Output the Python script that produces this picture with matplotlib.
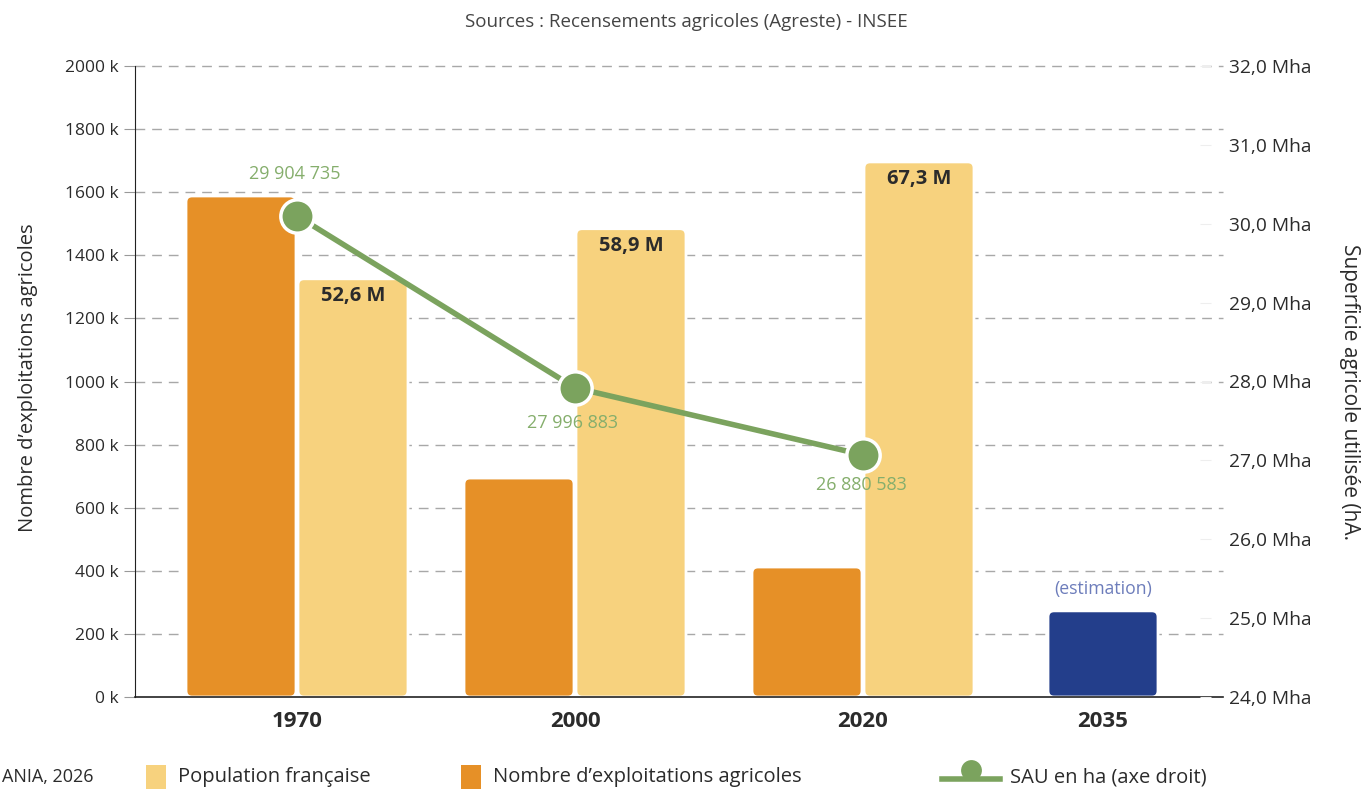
import matplotlib.pyplot as plt
from matplotlib.patches import FancyBboxPatch
from matplotlib.lines import Line2D

plt.rcParams['font.family'] = ['Open Sans', 'DejaVu Sans']

# data
years = ['1970', '2000', '2020', '2035']
exploitations_k = [1588, 694, 412, 273]      # 2035 = estimation
population_m = [52.6, 58.9, 67.3]
pop_scale = 25.2                               # k per M on the left axis
sau_mha = [30.10, 27.92, 27.07]
sau_labels = ['29 904 735', '27 996 883', '26 880 583']
left_ticks = [0, 200, 400, 600, 800, 1000, 1200, 1400, 1600, 1800, 2000]
right_ticks = [24, 25, 26, 27, 28, 29, 30, 31, 32]

orange = '#E69027'
yellow = '#F7D27E'
blue = '#233E8B'
green = '#7BA35E'
green_txt = '#85AE6C'
dark = '#2b2b2b'

# layout (x in pixel-like units of the plot width)
group_x = [162, 440, 728, 968]
bw = 110
off = 56
ypx = 2000 / 631  # data units per pixel on left axis

fig = plt.figure(figsize=(13.61, 7.9), dpi=100)
ax = fig.add_axes([135 / 1361, 1 - 697 / 790, 1065 / 1361, 631 / 790])
ax.set_xlim(0, 1065)
ax.set_ylim(0, 2000)


def rbar(x, h, color):
    p = FancyBboxPatch((x - bw / 2, 0), bw, h,
                       boxstyle='round,pad=0,rounding_size=6',
                       mutation_aspect=ypx, fc=color, ec='white', lw=2, zorder=3)
    ax.add_patch(p)


for i in range(3):
    rbar(group_x[i] - off, exploitations_k[i], orange)
    h = population_m[i] * pop_scale
    rbar(group_x[i] + off, h, yellow)
    ax.text(group_x[i] + off, h - 17 * ypx, f'{population_m[i]:.1f} M'.replace('.', ','),
            ha='center', va='center', fontsize=14.5, fontweight='bold', color=dark, zorder=6)

rbar(group_x[3], exploitations_k[3], blue)
ax.text(group_x[3], exploitations_k[3] + 68, '(estimation)', ha='center', va='center',
        fontsize=12.7, color='#6d7dbb', zorder=6)

# grid
for t in left_ticks[1:]:
    ax.plot([0, 1088], [t, t], ls=(0, (7, 5)), color='#a8a8a8', lw=1, zorder=1,
            clip_on=False)
ax.plot([0, 1088], [0, 0], color='#222222', lw=1.2, zorder=4, clip_on=False)

ax.set_yticks(left_ticks)
ax.set_yticklabels([f'{t} k' for t in left_ticks])
ax.set_xticks(group_x)
ax.set_xticklabels(years, fontweight='bold', fontsize=16, color=dark)
ax.tick_params(axis='y', labelsize=12.5, color='#999999', length=8, labelcolor=dark, pad=4)
ax.tick_params(axis='x', length=0, pad=10)
for s in ['top', 'right', 'bottom']:
    ax.spines[s].set_visible(False)
ax.spines['left'].set_color('#222222')
ax.set_ylabel("Nombre d’exploitations agricoles", fontsize=14.5, color=dark)
ax.yaxis.set_label_coords(-0.091, 0.5055)

# right axis with SAU line
ax2 = ax.twinx()
ax2.set_ylim(24, 32)
ax2.set_yticks(right_ticks)
ax2.set_yticklabels([f'{t},0 Mha' for t in right_ticks])
ax2.tick_params(axis='y', labelsize=13.8, color='#eeeeee', length=8, labelcolor=dark, pad=13)
for s in ['top', 'right', 'bottom', 'left']:
    ax2.spines[s].set_visible(False)
ax2.set_ylabel('Superficie agricole utilisée (hA.', rotation=-90, fontsize=15,
               color=dark, va='center')
ax2.yaxis.set_label_coords(1.1408, 0.484)
ax2.plot(group_x[:3], sau_mha, color=green, lw=4, zorder=5, marker='o', ms=24,
         mfc=green, mec='white', mew=2.5)
ax2.set_zorder(ax.get_zorder() + 1)
ax2.patch.set_visible(False)

label_dy = [0.53, -0.45, -0.38]
for x, y, lab, dy in zip(group_x, sau_mha, sau_labels, label_dy):
    ax2.text(x - 2, y + dy, lab, ha='center', va='center', fontsize=13, color=green_txt,
             zorder=6)

fig.text(686 / 1361, 1 - 22 / 790, 'Sources : Recensements agricoles (Agreste) - INSEE',
         ha='center', va='center', fontsize=13.5, color='#444444')

# legend row
ly = 1 - 777 / 790
fig.text(2 / 1361, ly, 'ANIA, 2026', ha='left', va='center', fontsize=13, color=dark)
for x0, col, lab in [(146, yellow, 'Population française'),
                     (461, orange, 'Nombre d’exploitations agricoles')]:
    fig.patches.append(plt.Rectangle((x0 / 1361, ly - 12 / 790), 20 / 1361, 24 / 790,
                                     transform=fig.transFigure, fc=col, ec='none'))
    fig.text((x0 + 32) / 1361, ly, lab, ha='left', va='center', fontsize=14.5, color=dark)
fig.lines.append(Line2D([942 / 1361, 1000 / 1361], [ly - 2 / 790, ly - 2 / 790],
                        transform=fig.transFigure, color=green, lw=4))
fig.lines.append(Line2D([971 / 1361], [ly + 7 / 790], transform=fig.transFigure,
                        marker='o', ms=15, color=green, mec='none'))
fig.text(1010 / 1361, ly, 'SAU en ha (axe droit)', ha='left', va='center', fontsize=14.5,
         color=dark)

fig.savefig('out.png', dpi=100)
